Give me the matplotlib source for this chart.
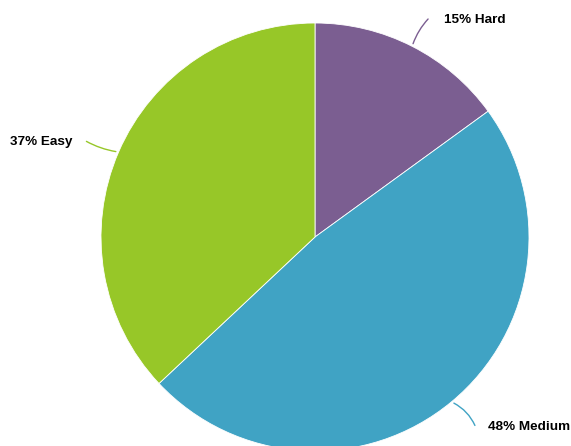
import matplotlib
matplotlib.use("Agg")
import matplotlib.pyplot as plt
import numpy as np

labels = ["Hard", "Medium", "Easy"]
shares = [15, 48, 37]
colors = ["#7b5e91", "#40a3c4", "#97c728"]

W, H = 571, 446
CX, CY, R = 315, 237, 214

fig = plt.figure(figsize=(W / 100, H / 100), dpi=100)
ax = fig.add_axes([(CX - R) / W, (H - CY - R) / H, 2 * R / W, 2 * R / H])
ax.pie(shares, colors=colors, startangle=90, counterclock=False, radius=1,
       wedgeprops=dict(linewidth=0.6, edgecolor="white"))
ax.set_xlim(-1, 1)
ax.set_ylim(-1, 1)
ax.set_axis_off()


def px(x, y):
    return ((x - CX) / R, (CY - y) / R)


# label placement in pixel coords: line end, text anchor, alignment, curvature
spots = [
    ((430, 17), (444, 20), "left", 0.12),
    ((476, 428), (488, 427), "left", 0.2),
    ((84, 140), (72, 142), "right", 0.1),
]

start = 90.0
for lab, s, c, (lend, tpos, ha, rad) in zip(labels, shares, colors, spots):
    mid = np.deg2rad(start - s / 100 * 360 / 2)
    start -= s / 100 * 360
    ax.annotate("", xy=(np.cos(mid), np.sin(mid)), xytext=px(*lend),
                arrowprops=dict(arrowstyle="-", color=c, lw=1,
                                connectionstyle=f"arc3,rad={rad}"),
                annotation_clip=False)
    ax.text(*px(*tpos), f"{s}% {lab}", ha=ha, va="center", fontsize=9.7,
            fontweight="bold", family="Liberation Sans", clip_on=False)

fig.savefig("out.png", dpi=100)
